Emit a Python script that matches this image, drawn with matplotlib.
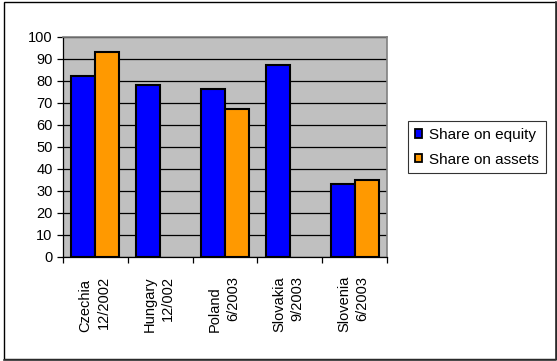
import matplotlib
matplotlib.use("Agg")
import matplotlib.pyplot as plt
import matplotlib.transforms as mtransforms
from matplotlib.patches import Rectangle
from matplotlib.lines import Line2D
import numpy as np

plt.rcParams['font.family'] = ['Liberation Sans', 'DejaVu Sans']

countries = ["Czechia", "Hungary", "Poland", "Slovakia", "Slovenia"]
dates = ["12/2002", "12/002", "6/2003", "9/2003", "6/2003"]
share_equity = [82, 78, 76, 87, 33]
share_assets = [93, np.nan, 67, np.nan, 35]
series_names = ["Share on equity", "Share on assets"]
yticks = list(range(0, 101, 10))

W, H = 557, 361
fig = plt.figure(figsize=(W / 100, H / 100), dpi=100)
fig.patch.set_facecolor("white")

# plot area in pixel coordinates
left, right, top, bottom = 63, 387, 36.7, 256.7
ax = fig.add_axes([left / W, 1 - bottom / H, (right - left) / W, (bottom - top) / H])
ax.set_facecolor("#C0C0C0")

x = np.arange(len(countries))
bw = 0.37
ax.bar(x - bw / 2, share_equity, bw, color="#0000FF", edgecolor="black",
       linewidth=1.5, label=series_names[0], zorder=3)
ax.bar(x + bw / 2, share_assets, bw, color="#FF9900", edgecolor="black",
       linewidth=1.5, label=series_names[1], zorder=3)

ax.set_xlim(-0.5, len(countries) - 0.5)
ax.set_ylim(0, 100)
ax.set_yticks(yticks)
ax.set_yticklabels([str(v) for v in yticks], fontsize=10.5)
ax.yaxis.grid(True, color="black", linewidth=0.9, zorder=1)
ax.set_axisbelow(True)

# category boundary ticks on the x axis
ax.set_xticks(np.arange(-0.5, len(countries), 1.0))
ax.set_xticklabels([])
ax.tick_params(axis="x", length=4.5, width=0.9, color="black", direction="out")
ax.tick_params(axis="y", length=4.5, width=0.9, color="black", direction="out", pad=3)

for s in ("top", "right"):
    ax.spines[s].set_color("#808080")
    ax.spines[s].set_linewidth(1.2)
for s in ("left", "bottom"):
    ax.spines[s].set_color("black")
    ax.spines[s].set_linewidth(0.9)

# rotated two-line category labels: country name, then reporting date
trans = mtransforms.blended_transform_factory(ax.transData, fig.transFigure)
px = 1 / 100  # one pixel in inches
t1 = trans + mtransforms.ScaledTranslation(-10 * px, 0, fig.dpi_scale_trans)
t2 = trans + mtransforms.ScaledTranslation(8 * px, 0, fig.dpi_scale_trans)
for i, (c, d) in enumerate(zip(countries, dates)):
    ax.text(i, 1 - 332 / H, c, transform=t1, rotation=90, ha="center",
            va="bottom", fontsize=10.5)
    ax.text(i, 1 - 276 / H, d, transform=t2, rotation=90, ha="center",
            va="top", fontsize=10.5)

leg = fig.legend(loc="upper left", bbox_to_anchor=(408 / W, 1 - 121 / H),
                 bbox_transform=fig.transFigure, fontsize=11, frameon=True,
                 fancybox=False, handlelength=0.48, handleheight=0.48,
                 handletextpad=0.45, borderpad=0.45, labelspacing=0.7,
                 borderaxespad=0)
leg.get_frame().set_edgecolor("black")
leg.get_frame().set_linewidth(0.8)
for h in leg.legend_handles:
    h.set_linewidth(1.3)

# outer chart border with a darker right/bottom edge
fig.patches.append(Rectangle((3.5 / W, 2 / H), (555.5 - 3.5) / W, (359.5 - 2) / H,
                             transform=fig.transFigure, fill=False,
                             edgecolor="black", linewidth=1.0))
fig.lines.append(Line2D([556 / W, 556 / W, 3.5 / W], [1 - 1.5 / H, 1.2 / H, 1.2 / H],
                        transform=fig.transFigure, color="#333333", linewidth=1.2))

fig.savefig("out.png", dpi=100)
